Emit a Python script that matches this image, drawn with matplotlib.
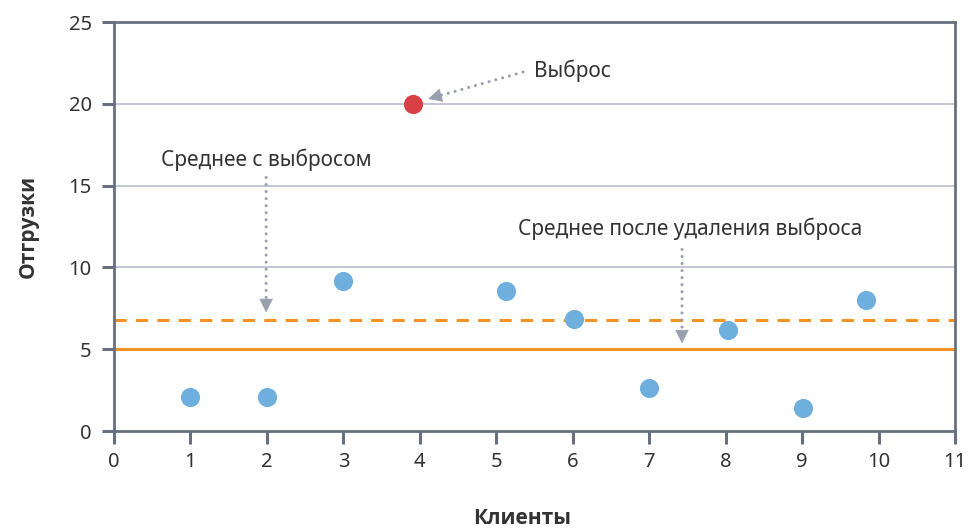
import matplotlib
matplotlib.use("Agg")
import matplotlib.pyplot as plt

# Data
clients_x = [1, 2, 3, 5.13, 6.02, 7, 8.03, 9.01, 9.84]
shipments_y = [2.1, 2.1, 9.15, 8.55, 6.85, 2.65, 6.15, 1.4, 8.0]
outlier_x = [3.91]
outlier_y = [20.0]
mean_with_outlier = 6.77
mean_without_outlier = 5.0
x_ticks = list(range(0, 12))
y_ticks = [0, 5, 10, 15, 20, 25]

plt.rcParams['font.family'] = ['Noto Sans', 'DejaVu Sans']

fig = plt.figure(figsize=(9.7, 5.28), dpi=100)
ax = fig.add_axes([0.1175, 0.1837, 0.867, 0.7746])

spine_c = '#687080'
grid_c = '#b8bccf'
text_c = '#333333'
arrow_c = '#9a9fb0'

ax.set_xlim(0, 11)
ax.set_ylim(0, 25)
ax.set_xticks(x_ticks)
ax.set_yticks(y_ticks)
for y in y_ticks[1:-1]:
    ax.axhline(y, color=grid_c, lw=1.2, zorder=1)

for s in ax.spines.values():
    s.set_color(spine_c)
    s.set_linewidth(2.0)
ax.tick_params(axis='both', colors=spine_c, length=9, width=2.2,
               labelcolor=text_c, labelsize=14.5)
ax.tick_params(axis='x', pad=6)
ax.tick_params(axis='y', pad=7)

ax.axhline(mean_with_outlier, color='#f39325', lw=2.2, ls=(0, (4, 3)), zorder=2)
ax.axhline(mean_without_outlier, color='#f39325', lw=2.2, zorder=2)

ax.scatter(clients_x, shipments_y, s=190, color='#6fafde', zorder=3, linewidths=0)
ax.scatter(outlier_x, outlier_y, s=190, color='#d94045', zorder=3, linewidths=0)


def dotted_arrow(tip, start):
    ax.annotate('', xy=tip, xytext=start, zorder=4,
                arrowprops=dict(arrowstyle='-', color=arrow_c, lw=2.2,
                                ls=(0, (0.01, 2.3)), capstyle='round',
                                shrinkA=0, shrinkB=6))
    p_tip = ax.transData.transform(tip)
    p_st = ax.transData.transform(start)
    v = p_st - p_tip
    v = v / (v ** 2).sum() ** 0.5
    p_base = p_tip + v * 12
    base = ax.transData.inverted().transform(p_base)
    ax.annotate('', xy=tip, xytext=tuple(base), zorder=4,
                arrowprops=dict(arrowstyle='-|>,head_length=0.9,head_width=0.45',
                                color=arrow_c, lw=0.5, shrinkA=0, shrinkB=0))


dotted_arrow((4.11, 20.3), (5.35, 21.94))
ax.text(5.5, 22.0, 'Выброс', fontsize=15, color=text_c, va='center', ha='left')

dotted_arrow((1.99, 7.25), (1.99, 15.5))
ax.text(1.99, 16.6, 'Среднее с выбросом', fontsize=15, color=text_c, va='center', ha='center')

dotted_arrow((7.43, 5.35), (7.43, 11.1))
ax.text(5.29, 12.35, 'Среднее после удаления выброса', fontsize=15, color=text_c,
        va='center', ha='left')

ax.set_xlabel('Клиенты', fontsize=15, fontweight='bold', color=text_c,
              family=['Open Sans', 'DejaVu Sans'])
ax.xaxis.label.set_va('center')
ax.xaxis.set_label_coords(0.485, -0.213)
ax.set_ylabel('Отгрузки', fontsize=15, fontweight='bold', color=text_c,
              family=['Open Sans', 'DejaVu Sans'])
ax.yaxis.label.set_va('center')
ax.yaxis.set_label_coords(-0.102, 0.5)

fig.savefig('out.png', dpi=100)
